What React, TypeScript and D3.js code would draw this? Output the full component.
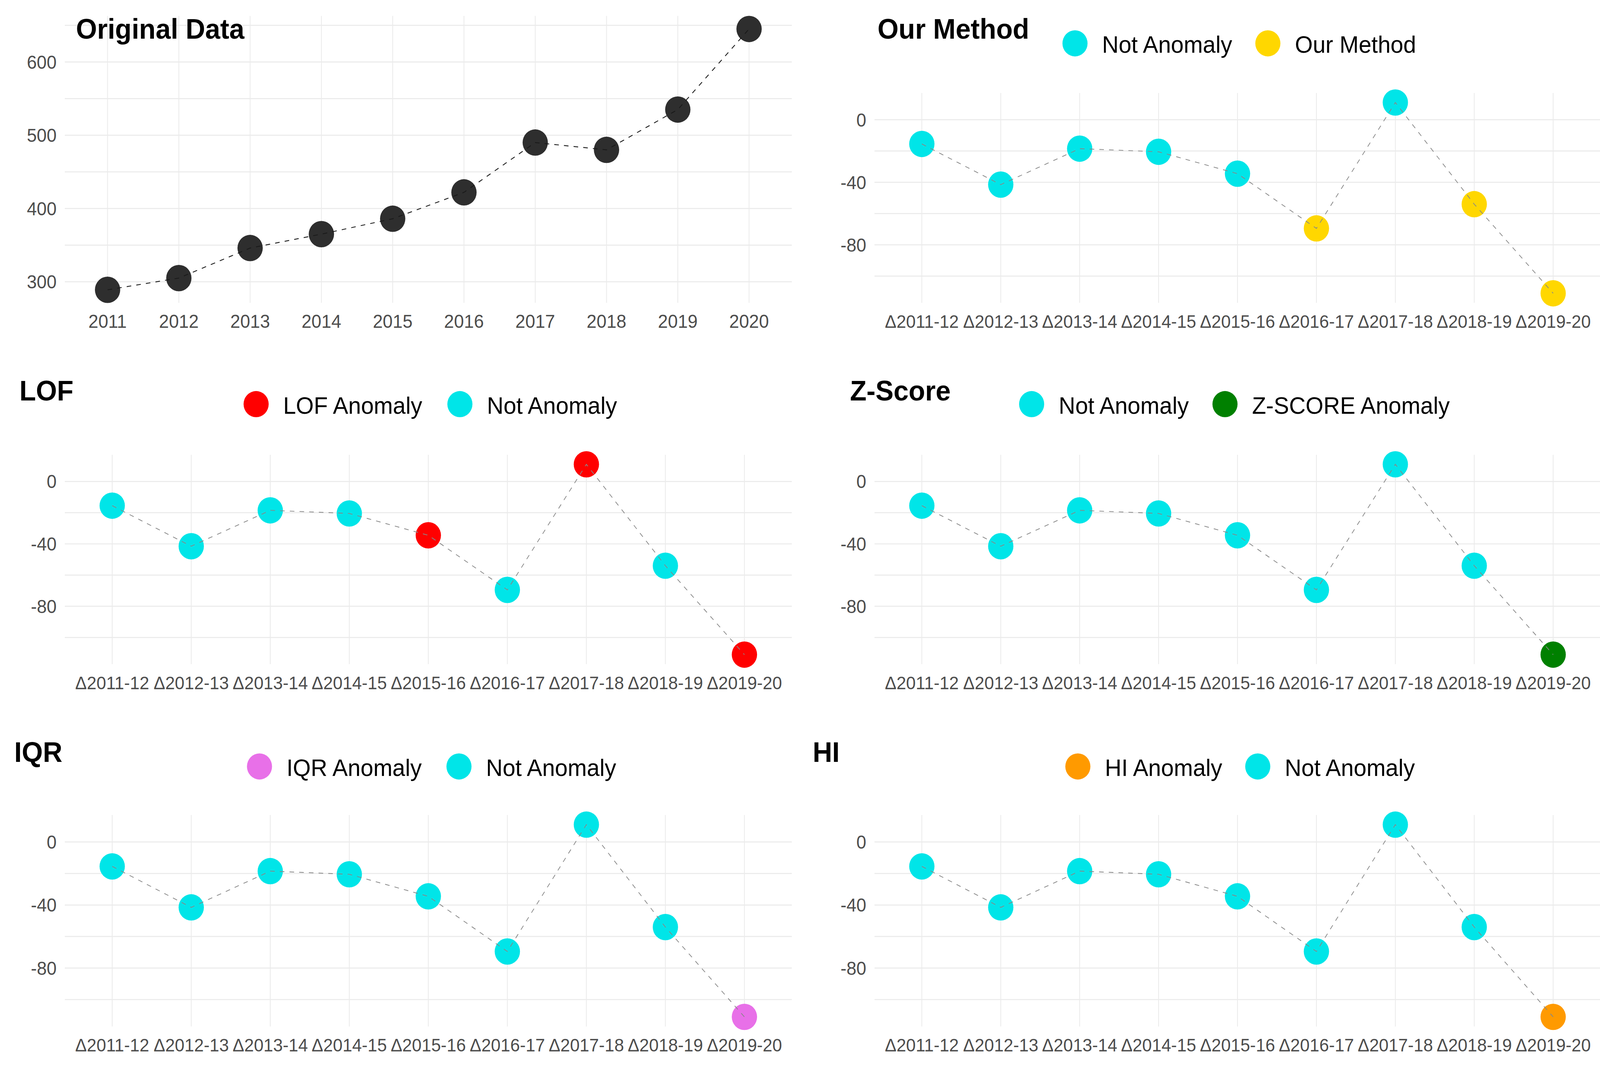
import React from 'react';
import * as d3 from 'd3';

// ---- data ----
const years = ['2011', '2012', '2013', '2014', '2015', '2016', '2017', '2018', '2019', '2020'];
const originalValues = [289, 305, 346, 365, 386, 422, 490, 480, 535, 645];
const originalTicks = [300, 400, 500, 600];

const deltaLabels = [
	'Δ2011-12', 'Δ2012-13', 'Δ2013-14', 'Δ2014-15', 'Δ2015-16',
	'Δ2016-17', 'Δ2017-18', 'Δ2018-19', 'Δ2019-20',
];
const deltaValues = [-15.5, -41.5, -18.5, -20.5, -34.5, -69.5, 11, -54, -111];
const deltaTicks = [-80, -40, 0];

// 1 = flagged as anomaly by that method
const ourMethodFlags = [0, 0, 0, 0, 0, 1, 0, 1, 1];
const lofFlags = [0, 0, 0, 0, 1, 0, 1, 0, 1];
const zScoreFlags = [0, 0, 0, 0, 0, 0, 0, 0, 1];
const iqrFlags = [0, 0, 0, 0, 0, 0, 0, 0, 1];
const hiFlags = [0, 0, 0, 0, 0, 0, 0, 0, 1];

const NOT_ANOMALY = '#00E5E8';

// view units; the svg is stretched over the whole window
const VW = 1568;
const VH = 1006;
const FONT = '"Liberation Sans", Arial, sans-serif';

interface LegendKey {
	cx: number;
	label: string;
	color: string;
}

interface PanelProps {
	title: string;
	labels: string[];
	values: number[];
	ticks: number[];
	pointColors: string[];
	lineColor: string;
	lineWidth?: number;
	tickSize?: number;
	box: { left: number; right: number; top: number; bottom: number };
	titlePos: [number, number];
	legendY?: number;
	legend?: LegendKey[];
}

const Panel: React.FC<PanelProps> = ({
	title, labels, values, ticks, pointColors, lineColor, lineWidth = 0.7, tickSize = 17,
	box, titlePos, legendY, legend,
}) => {
	const [lo, hi] = d3.extent(values) as [number, number];
	const pad = (hi - lo) * 0.05;
	const y = d3.scaleLinear().domain([lo - pad, hi + pad]).range([box.bottom, box.top]);
	const x = d3.scalePoint<string>().domain(labels).range([box.left, box.right]).padding(0.6);

	// grid lines: majors at ticks, minors half way between (and one step outside)
	const step = ticks[1] - ticks[0];
	const grid: number[] = [];
	for (let v = ticks[0] - step; v <= ticks[ticks.length - 1] + step + 1e-9; v += step / 2) {
		if (v >= lo - pad && v <= hi + pad) grid.push(v);
	}

	const line = d3
		.line<number>()
		.x((_, i) => x(labels[i]) as number)
		.y((d) => y(d));

	return (
		<g>
			{grid.map((g) => (
				<line key={'h' + g} x1={box.left} x2={box.right} y1={y(g)} y2={y(g)} stroke="#EBEBEB" strokeWidth={1} />
			))}
			{labels.map((l) => (
				<line key={'v' + l} x1={x(l)} x2={x(l)} y1={box.top} y2={box.bottom} stroke="#EBEBEB" strokeWidth={0.8} />
			))}
			{ticks.map((t) => (
				<text key={'yt' + t} x={box.left - 8} y={y(t)} dy="0.36em" textAnchor="end" fontSize={17.5} fill="#4D4D4D" fontFamily={FONT}>
					{t}
				</text>
			))}
			{labels.map((l) => (
				<text key={'xt' + l} x={x(l)} y={box.bottom + 23.5} textAnchor="middle" fontSize={tickSize} fill="#4D4D4D" fontFamily={FONT}>
					{l}
				</text>
			))}
			{values.map((v, i) => (
				<circle key={'p' + i} cx={x(labels[i])} cy={y(v)} r={12.4} fill={pointColors[i]} />
			))}
			<path d={line(values) as string} fill="none" stroke={lineColor} strokeWidth={lineWidth} strokeDasharray="4.5,5" />
			<text x={titlePos[0]} y={titlePos[1]} fontSize={26.5} fontWeight="bold" fill="#000" fontFamily={FONT}>
				{title}
			</text>
			{legend &&
				legend.map((k) => (
					<g key={k.label}>
						<circle cx={k.cx} cy={legendY} r={12.3} fill={k.color} />
						<text x={k.cx + 26.5} y={(legendY as number) + 9} fontSize={22.5} fill="#000" fontFamily={FONT}>
							{k.label}
						</text>
					</g>
				))}
		</g>
	);
};

const flagColors = (flags: number[], anomaly: string) => flags.map((f) => (f ? anomaly : NOT_ANOMALY));

const LEFT = { left: 63.5, right: 776 };
const RIGHT = { left: 857, right: 1568.5 };

export default function App() {
	return (
		<div style={{ position: 'fixed', left: 0, top: 0, width: '100vw', height: '100vh', background: '#fff', overflow: 'hidden' }}>
			<svg width="100%" height="100%" viewBox={`0 0 ${VW} ${VH}`} preserveAspectRatio="none" style={{ display: 'block' }}>
				<rect x={0} y={0} width={VW} height={VH} fill="#fff" />
				<Panel
					title="Original Data"
					labels={years}
					values={originalValues}
					ticks={originalTicks}
					pointColors={originalValues.map(() => '#2E2E2E')}
					lineColor="#1a1a1a"
					lineWidth={0.8}
					tickSize={17.5}
					box={{ ...LEFT, top: 15, bottom: 285 }}
					titlePos={[74.5, 36.4]}
				/>
				<Panel
					title="Our Method"
					labels={deltaLabels}
					values={deltaValues}
					ticks={deltaTicks}
					pointColors={flagColors(ourMethodFlags, '#FFD700')}
					lineColor="#888"
					box={{ ...RIGHT, top: 87.5, bottom: 285 }}
					titlePos={[860, 36.4]}
					legendY={40.8}
					legend={[
						{ cx: 1053.5, label: 'Not Anomaly', color: NOT_ANOMALY },
						{ cx: 1242.5, label: 'Our Method', color: '#FFD700' },
					]}
				/>
				<Panel
					title="LOF"
					labels={deltaLabels}
					values={deltaValues}
					ticks={deltaTicks}
					pointColors={flagColors(lofFlags, '#FF0000')}
					lineColor="#888"
					box={{ ...LEFT, top: 428, bottom: 625 }}
					titlePos={[19, 377]}
					legendY={380.3}
					legend={[
						{ cx: 251, label: 'LOF Anomaly', color: '#FF0000' },
						{ cx: 450.7, label: 'Not Anomaly', color: NOT_ANOMALY },
					]}
				/>
				<Panel
					title="Z-Score"
					labels={deltaLabels}
					values={deltaValues}
					ticks={deltaTicks}
					pointColors={flagColors(zScoreFlags, '#008000')}
					lineColor="#888"
					box={{ ...RIGHT, top: 428, bottom: 625 }}
					titlePos={[833, 377]}
					legendY={380.3}
					legend={[
						{ cx: 1011, label: 'Not Anomaly', color: NOT_ANOMALY },
						{ cx: 1200.5, label: 'Z-SCORE Anomaly', color: '#008000' },
					]}
				/>
				<Panel
					title="IQR"
					labels={deltaLabels}
					values={deltaValues}
					ticks={deltaTicks}
					pointColors={flagColors(iqrFlags, '#E870E8')}
					lineColor="#888"
					box={{ ...LEFT, top: 767, bottom: 966 }}
					titlePos={[14, 717]}
					legendY={721.3}
					legend={[
						{ cx: 254.3, label: 'IQR Anomaly', color: '#E870E8' },
						{ cx: 449.8, label: 'Not Anomaly', color: NOT_ANOMALY },
					]}
				/>
				<Panel
					title="HI"
					labels={deltaLabels}
					values={deltaValues}
					ticks={deltaTicks}
					pointColors={flagColors(hiFlags, '#FF9A00')}
					lineColor="#888"
					box={{ ...RIGHT, top: 767, bottom: 966 }}
					titlePos={[796.4, 717]}
					legendY={721.3}
					legend={[
						{ cx: 1056.3, label: 'HI Anomaly', color: '#FF9A00' },
						{ cx: 1232.6, label: 'Not Anomaly', color: NOT_ANOMALY },
					]}
				/>
			</svg>
		</div>
	);
}
